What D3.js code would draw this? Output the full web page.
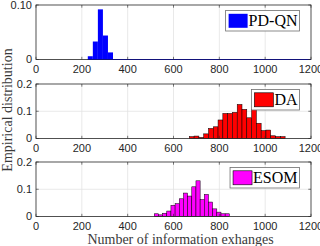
<!DOCTYPE html>
<html>
<head>
<meta charset="utf-8">
<script src="https://cdn.jsdelivr.net/npm/d3@7"></script>
<style>
  body { margin: 0; background: #fff; }
  svg { display: block; }
</style>
</head>
<body>
<script>
// x axis ticks shared by all three panels
var xTicks = [0, 200, 400, 600, 800, 1000, 1200]

// histogram bins: first left edge, bin width, bar heights
var pdqnStart = 226, pdqnWidth = 22
var pdqnVals = [0.006, 0.033, 0.092, 0.044, 0.013]

var daStart = 669, daWidth = 20.9
var daVals = [0.007, 0.009, 0.004, 0.017, 0.037, 0.043, 0.068, 0.092, 0.092, 0.096,
              0.125, 0.107, 0.076, 0.107, 0.056, 0.029, 0.031, 0.010, 0.007, 0.007]

var esomStart = 516, esomWidth = 18.2
var esomVals = [0.010, 0.006, 0.012, 0.020, 0.041, 0.047, 0.065, 0.086, 0.075,
                0.109, 0.131, 0.062, 0.081, 0.053, 0.028, 0.016, 0.010, 0.010]

var yTicksTop = [0, 0.1], yLabelsTop = ["0", "0.10"]
var yTicks = [0, 0.1, 0.2], yLabels = ["0", "0.1", "0.2"]

var panels = [
    {name: "PD-QN", fill: "#0000ff", edge: "none", start: pdqnStart, w: pdqnWidth, vals: pdqnVals,
     ymax: 0.1, ticks: yTicksTop, labels: yLabelsTop, top: 5},
    {name: "DA", fill: "#ff0000", edge: "#000", start: daStart, w: daWidth, vals: daVals,
     ymax: 0.2, ticks: yTicks, labels: yLabels, top: 84},
    {name: "ESOM", fill: "#ff00ff", edge: "#000", start: esomStart, w: esomWidth, vals: esomVals,
     ymax: 0.2, ticks: yTicks, labels: yLabels, top: 162}
]

var svgWidth = 320, svgHeight = 246
var left = 36, right = 311, ph = 54.5
var axisColor = "#262626", gridColor = "#e3e3e3"

var svg = d3.select("body").append("svg")
    .attr("width", svgWidth)
    .attr("height", svgHeight)

var x = d3.scaleLinear().domain([0, 1200]).range([left, right])

panels.forEach(function(p) {
    var y = d3.scaleLinear().domain([0, p.ymax]).range([p.top + ph, p.top])
    var g = svg.append("g")

    // grid
    g.selectAll(".vgrid").data(xTicks.slice(1, -1)).enter().append("line")
        .attr("x1", d => x(d)).attr("x2", d => x(d))
        .attr("y1", p.top).attr("y2", p.top + ph)
        .attr("stroke", gridColor).attr("stroke-width", 0.8)
    g.selectAll(".hgrid").data(p.ticks.slice(1, -1)).enter().append("line")
        .attr("x1", left).attr("x2", right)
        .attr("y1", d => y(d)).attr("y2", d => y(d))
        .attr("stroke", gridColor).attr("stroke-width", 0.8)

    // bars
    g.selectAll("rect.bar").data(p.vals).enter().append("rect")
        .attr("class", "bar")
        .attr("x", (d, i) => x(p.start + i * p.w))
        .attr("width", (d, i) => x(p.start + (i + 1) * p.w) - x(p.start + i * p.w))
        .attr("y", d => y(d))
        .attr("height", d => y(0) - y(d))
        .attr("fill", p.fill)
        .attr("stroke", p.edge)
        .attr("stroke-width", 0.5)

    // frame
    g.append("rect")
        .attr("x", left).attr("y", p.top)
        .attr("width", right - left).attr("height", ph)
        .attr("fill", "none").attr("stroke", axisColor).attr("stroke-width", 0.8)

    // PD-QN empty bins leave a dark blue line on the baseline
    if (p.name == "PD-QN") {
        g.append("line")
            .attr("x1", x(p.start)).attr("x2", right)
            .attr("y1", y(0)).attr("y2", y(0))
            .attr("stroke", "#12127a").attr("stroke-width", 1)
    }

    // ticks inward
    xTicks.forEach(function(t) {
        g.append("line").attr("x1", x(t)).attr("x2", x(t))
            .attr("y1", p.top + ph).attr("y2", p.top + ph - 2.7)
            .attr("stroke", axisColor).attr("stroke-width", 0.6)
        g.append("line").attr("x1", x(t)).attr("x2", x(t))
            .attr("y1", p.top).attr("y2", p.top + 2.7)
            .attr("stroke", axisColor).attr("stroke-width", 0.6)
    })
    p.ticks.forEach(function(t) {
        g.append("line").attr("x1", left).attr("x2", left + 2.7)
            .attr("y1", y(t)).attr("y2", y(t))
            .attr("stroke", axisColor).attr("stroke-width", 0.6)
        g.append("line").attr("x1", right).attr("x2", right - 2.7)
            .attr("y1", y(t)).attr("y2", y(t))
            .attr("stroke", axisColor).attr("stroke-width", 0.6)
    })

    // tick labels
    g.selectAll(".xl").data(xTicks).enter().append("text")
        .attr("x", d => x(d))
        .attr("y", p.top + ph + 9.5)
        .attr("dy", "0.35em")
        .attr("text-anchor", "middle")
        .style("font-family", "'Liberation Sans', Arial, sans-serif")
        .style("font-size", "11px")
        .attr("fill", axisColor)
        .text(d => d)
    g.selectAll(".yl").data(p.ticks).enter().append("text")
        .attr("x", left - 4)
        .attr("y", d => y(d))
        .attr("dy", "0.35em")
        .attr("text-anchor", "end")
        .style("font-family", "'Liberation Sans', Arial, sans-serif")
        .style("font-size", "11px")
        .attr("fill", axisColor)
        .text((d, i) => p.labels[i])

    // legend
    var lg = g.append("g")
    var lt = lg.append("text")
        .attr("y", p.top + 5.5 + 10.25)
        .attr("dy", "0.35em")
        .style("font-family", "'Liberation Serif', 'Times New Roman', serif")
        .style("font-size", "16px")
        .attr("fill", "#000")
        .text(p.name)
    var tw = lt.node().getComputedTextLength()
    var bw = 3 + 19 + 1 + tw + 2
    var bx = right - 11.5 - bw
    lt.attr("x", bx + 23)
    lg.insert("rect", "text")
        .attr("x", bx).attr("y", p.top + 5.5)
        .attr("width", bw).attr("height", 20.5)
        .attr("fill", "#fff").attr("stroke", "#6e6e6e").attr("stroke-width", 0.8)
    lg.insert("rect", "text")
        .attr("x", bx + 3).attr("y", p.top + 5.5 + 3.3)
        .attr("width", 19).attr("height", 14)
        .attr("fill", p.fill)
        .attr("stroke", p.edge).attr("stroke-width", 0.6)
})

// axis titles
svg.append("text")
    .attr("x", 180.5).attr("y", 239)
    .attr("dy", "0.35em")
    .attr("text-anchor", "middle")
    .style("font-family", "'Liberation Serif', 'Times New Roman', serif")
    .style("font-size", "14px")
    .attr("fill", "#3a3a3a")
    .text("Number of information exhanges")

svg.append("text")
    .attr("transform", "translate(7.5,110) rotate(-90)")
    .attr("dy", "0.35em")
    .attr("text-anchor", "middle")
    .style("font-family", "'Liberation Serif', 'Times New Roman', serif")
    .style("font-size", "14px")
    .attr("fill", "#3a3a3a")
    .text("Empirical distribution")
</script>
</body>
</html>
